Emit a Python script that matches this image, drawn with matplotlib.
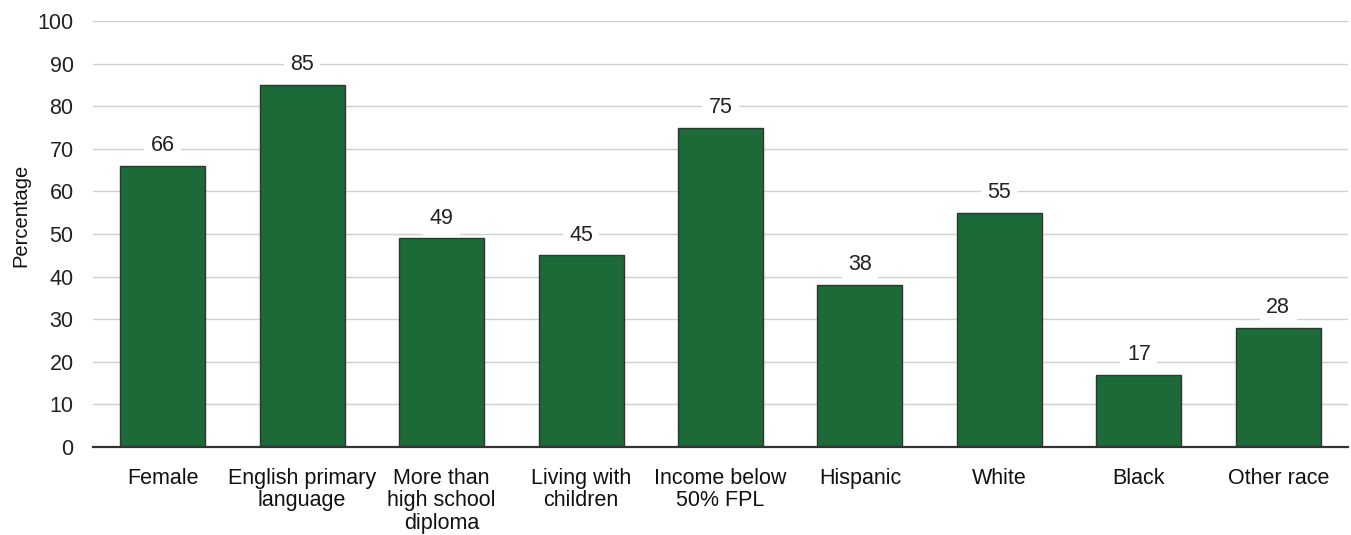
import matplotlib.pyplot as plt
import numpy as np

categories = ['Female', 'English primary\nlanguage', 'More than\nhigh school\ndiploma',
              'Living with\nchildren', 'Income below\n50% FPL', 'Hispanic', 'White',
              'Black', 'Other race']
values = [66, 85, 49, 45, 75, 38, 55, 17, 28]
yticks = list(range(0, 101, 10))


def main():
    plt.rcParams['font.family'] = ['Liberation Sans', 'DejaVu Sans']
    fig = plt.figure(figsize=(13.51, 5.35), dpi=100)
    ax = fig.add_axes([0.0688, 0.1645, 0.929, 0.7962])

    x = np.arange(len(categories))
    ax.bar(x, values, width=0.61, color='#1b6a38', edgecolor='#333333',
           linewidth=1.0, zorder=3)

    # Value labels with white background so gridlines are cut
    for xi, v in zip(x, values):
        ax.annotate(str(v), (xi, v), xytext=(0, 14.5), textcoords='offset points',
                    ha='center', va='center', fontsize=15.5, color='#222222',
                    bbox=dict(boxstyle='square,pad=0.3', fc='white', ec='none'),
                    zorder=4)

    ax.set_xlim(-0.5, len(categories) - 0.5)
    ax.set_ylim(0, 100)
    ax.set_yticks(yticks)
    ax.set_xticks(x)
    ax.set_xticklabels(categories, fontsize=15.5, color='#111111', linespacing=1.1)
    ax.tick_params(axis='y', labelsize=15.5, colors='#222222', length=0, pad=14)
    ax.tick_params(axis='x', length=0, pad=15)
    ax.set_ylabel('Percentage', fontsize=14.5, color='#111111')
    ax.yaxis.set_label_coords(21 / 1351, 1 - 215.5 / 535, transform=fig.transFigure)
    ax.yaxis.label.set_verticalalignment('center')

    ax.grid(axis='y', color='#d0d0d0', linewidth=1.0, zorder=0)
    ax.set_axisbelow(True)
    for s in ['top', 'right', 'left']:
        ax.spines[s].set_visible(False)
    ax.spines['bottom'].set_color('#333333')
    ax.spines['bottom'].set_linewidth(1.6)
    ax.spines['bottom'].set_zorder(5)

    fig.savefig('out.png', dpi=100)


if __name__ == '__main__':
    main()
